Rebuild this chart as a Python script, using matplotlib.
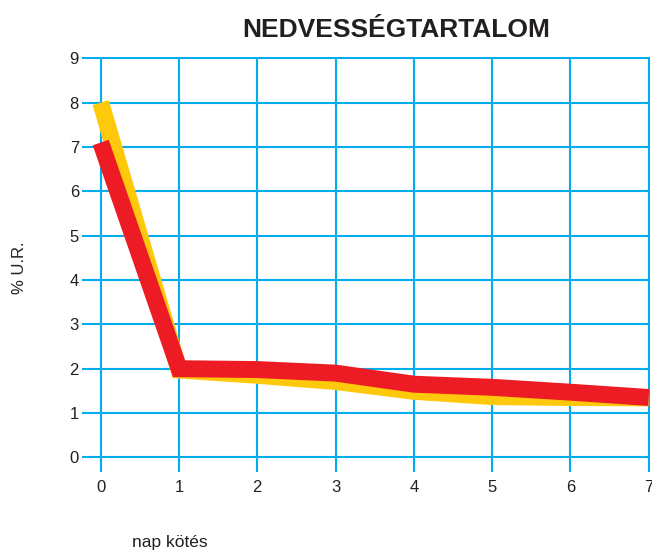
import matplotlib
matplotlib.use("Agg")
import matplotlib.pyplot as plt

days = [0, 1, 2, 3, 4, 5, 6, 7]
yellow_vals = [8.0, 1.97, 1.85, 1.71, 1.49, 1.37, 1.35, 1.34]
red_vals = [7.1, 2.0, 1.98, 1.9, 1.65, 1.58, 1.47, 1.35]
x_ticks = [0, 1, 2, 3, 4, 5, 6, 7]
y_ticks = [0, 1, 2, 3, 4, 5, 6, 7, 8, 9]

title = "NEDVESSÉGTARTALOM"
ylabel = "% U.R."
xlabel = "nap kötés"

W, H = 652, 551
fig = plt.figure(figsize=(W / 100, H / 100), dpi=100)
ax = fig.add_axes([81.7 / W, 1 - 472 / H, (649.5 - 81.7) / W, (472 - 57.4) / H])

ax.set_xlim(-0.243, 7.01)
ax.set_ylim(-0.33, 9.02)
ax.set_xticks(x_ticks)
ax.set_yticks(y_ticks)
ax.grid(True, color="#00AEEF", linewidth=1.5)
ax.set_axisbelow(True)
for s in ax.spines.values():
    s.set_visible(False)
ax.tick_params(length=0, labelsize=12, colors="#231F20")
ax.tick_params(axis="x", pad=6)
ax.tick_params(axis="y", pad=2)
for lab in ax.get_xticklabels() + ax.get_yticklabels():
    lab.set_fontfamily("Liberation Sans")

ax.plot(days, yellow_vals, color="#FFC90B", linewidth=12.2,
        solid_joinstyle="miter", solid_capstyle="butt", zorder=3)
ax.plot(days, red_vals, color="#ED1C24", linewidth=12.2,
        solid_joinstyle="miter", solid_capstyle="butt", zorder=4)

fig.text(396 / W, 1 - 37.3 / H, title, ha="center", va="baseline",
         fontsize=19, fontweight="bold", family="Liberation Sans", color="#231F20")
fig.text(20 / W, 1 - 268 / H, ylabel, ha="center", va="center", rotation=90,
         fontsize=12, family="Liberation Sans", color="#231F20")
fig.text(131.7 / W, 1 - 546.7 / H, xlabel, ha="left", va="baseline",
         fontsize=12.5, family="Liberation Sans", color="#231F20")

fig.savefig("out.png", dpi=100)
